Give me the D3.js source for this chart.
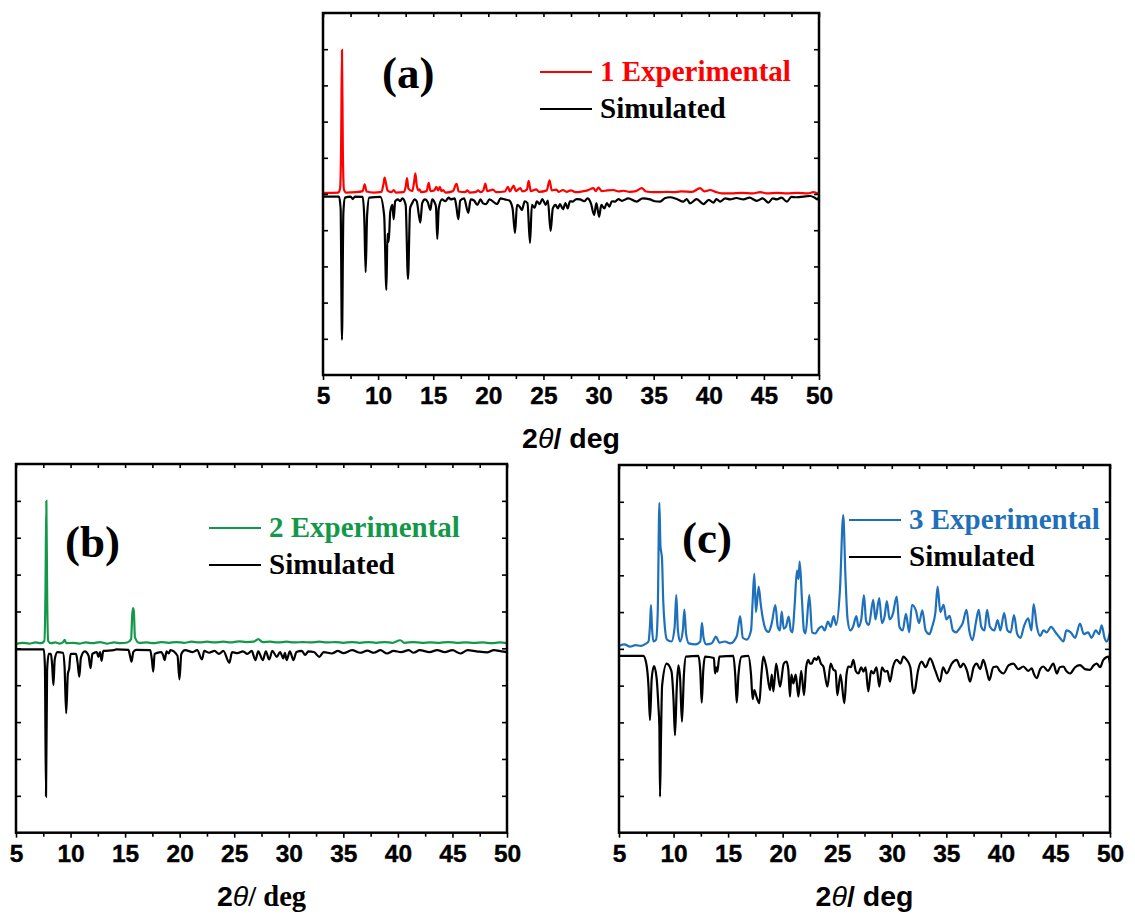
<!DOCTYPE html>
<html>
<head>
<meta charset="utf-8">
<script src="https://cdn.jsdelivr.net/npm/d3@7"></script>
<style>
  body { margin: 0; background: #fff; }
</style>
</head>
<body>
<svg id="chart" width="1135" height="915"></svg>
<script>
// ---- data: [2theta, intensity], intensity in tick units (0..10 per panel) ----
const xTicks = [5, 10, 15, 20, 25, 30, 35, 40, 45, 50];
const xMinor = [7.5, 12.5, 17.5, 22.5, 27.5, 32.5, 37.5, 42.5, 47.5];
const yTicks = [1, 2, 3, 4, 5, 6, 7, 8, 9];

const expA = [[5.0,5.03],[6.4,5.04],[6.55,5.15],[6.65,6.5],[6.72,8.98],[6.8,6.2],[6.9,5.12],[7.1,5.04],[8.0,5.05],[8.6,5.08],[8.78,5.27],[8.95,5.07],[9.6,5.04],[10.3,5.06],[10.5,5.3],[10.59,5.45],[10.72,5.28],[10.85,5.1],[11.2,5.05],[11.41,5.11],[11.6,5.04],[12.3,5.05],[12.5,5.2],[12.62,5.44],[12.75,5.15],[13.1,5.08],[13.25,5.3],[13.38,5.57],[13.5,5.25],[13.65,5.1],[13.75,5.13],[13.9,5.05],[14.4,5.08],[14.59,5.31],[14.75,5.08],[15.1,5.1],[15.28,5.2],[15.45,5.1],[15.6,5.2],[15.75,5.08],[15.9,5.11],[16.1,5.04],[16.8,5.08],[17.03,5.25],[17.13,5.28],[17.3,5.07],[17.9,5.05],[18.1,5.1],[18.3,5.04],[18.9,5.06],[19.06,5.1],[19.3,5.05],[19.55,5.1],[19.73,5.29],[19.9,5.08],[20.42,5.12],[20.7,5.05],[21.5,5.07],[21.78,5.2],[21.95,5.07],[22.3,5.23],[22.5,5.08],[22.9,5.16],[23.1,5.07],[23.5,5.12],[23.66,5.36],[23.85,5.08],[24.35,5.13],[24.6,5.06],[25.3,5.1],[25.56,5.38],[25.75,5.1],[26.17,5.12],[26.4,5.06],[26.77,5.11],[27.1,5.06],[27.5,5.1],[27.9,5.05],[28.5,5.07],[29.0,5.1],[29.53,5.16],[29.75,5.08],[29.99,5.18],[30.3,5.08],[30.8,5.1],[31.35,5.11],[31.8,5.07],[32.26,5.09],[32.8,5.06],[33.4,5.08],[33.92,5.16],[34.3,5.07],[35.0,5.05],[35.6,5.05],[36.19,5.06],[36.8,5.05],[37.5,5.07],[38.5,5.06],[39.21,5.16],[39.6,5.07],[40.12,5.11],[40.6,5.06],[41.18,5.02],[42.0,5.02],[43.0,5.03],[44.0,5.02],[44.66,5.05],[45.3,5.02],[46.2,5.03],[47.08,5.02],[48.0,5.03],[49.0,5.02],[49.5,5.05],[50.0,5.0]];

const simA = [[5.0,4.93],[6.45,4.93],[6.6,4.6],[6.72,0.97],[6.85,4.5],[7.0,4.9],[7.5,4.93],[7.7,4.86],[7.9,4.93],[8.6,4.92],[8.75,4.3],[8.87,2.84],[9.0,4.4],[9.2,4.9],[10.2,4.92],[10.55,4.4],[10.75,2.35],[10.85,3.9],[10.96,3.68],[11.1,4.5],[11.3,4.7],[11.41,4.3],[11.55,4.8],[11.8,4.85],[12.0,4.8],[12.2,4.88],[12.5,4.7],[12.71,2.65],[12.9,4.6],[13.1,4.75],[13.3,4.85],[13.5,4.8],[13.83,4.21],[14.0,4.75],[14.25,4.85],[14.5,4.78],[14.74,4.56],[14.9,4.85],[15.15,4.75],[15.25,4.65],[15.37,3.76],[15.5,4.6],[15.8,4.85],[16.1,4.8],[16.4,4.9],[16.6,4.85],[16.95,4.88],[17.1,4.65],[17.28,4.3],[17.45,4.82],[17.8,4.88],[18.18,4.48],[18.4,4.85],[18.7,4.82],[19.0,4.7],[19.3,4.85],[19.5,4.75],[19.8,4.72],[20.1,4.85],[20.8,4.72],[21.1,4.88],[21.5,4.85],[21.9,4.82],[22.2,4.6],[22.42,3.92],[22.6,4.7],[22.85,4.65],[23.05,4.56],[23.3,4.8],[23.55,4.75],[23.78,3.65],[23.95,4.7],[24.2,4.62],[24.4,4.8],[24.65,4.72],[24.9,4.86],[25.2,4.7],[25.4,4.82],[25.65,3.98],[25.85,4.6],[26.1,4.7],[26.3,4.6],[26.5,4.72],[26.77,4.58],[27.0,4.75],[27.2,4.6],[27.4,4.8],[27.65,4.79],[28.0,4.86],[28.32,4.85],[28.7,4.8],[29.0,4.88],[29.3,4.75],[29.6,4.42],[29.8,4.75],[30.05,4.37],[30.25,4.7],[30.53,4.6],[30.75,4.75],[30.98,4.65],[31.2,4.8],[31.5,4.79],[31.8,4.86],[32.1,4.81],[32.7,4.88],[33.46,4.79],[34.0,4.88],[34.67,4.85],[35.1,4.8],[35.58,4.79],[36.0,4.88],[36.49,4.91],[37.1,4.86],[37.7,4.79],[38.0,4.86],[38.3,4.74],[38.9,4.86],[39.51,4.72],[40.0,4.84],[40.42,4.76],[40.7,4.86],[41.02,4.79],[41.5,4.88],[41.93,4.85],[42.5,4.89],[43.14,4.85],[43.7,4.9],[44.35,4.81],[44.9,4.88],[45.41,4.76],[45.8,4.88],[46.17,4.85],[46.6,4.9],[47.08,4.79],[47.5,4.92],[47.98,4.91],[48.6,4.93],[49.19,4.945],[49.6,4.9],[49.86,4.85],[50.0,4.93]];

const expB = [[5.0,5.12],[5.6,5.15],[6.2,5.13],[6.8,5.16],[7.3,5.14],[7.6,5.2],[7.7,6.5],[7.78,9.0],[7.86,6.3],[7.95,5.2],[8.2,5.14],[8.6,5.16],[9.0,5.13],[9.3,5.16],[9.46,5.23],[9.6,5.14],[10.2,5.15],[10.8,5.13],[11.4,5.16],[12.0,5.14],[12.7,5.17],[13.3,5.13],[14.0,5.16],[14.6,5.14],[15.2,5.16],[15.55,5.25],[15.65,5.9],[15.72,6.09],[15.8,6.0],[15.9,5.3],[16.3,5.15],[17.0,5.16],[17.6,5.14],[18.3,5.17],[19.0,5.15],[19.7,5.17],[20.4,5.15],[21.1,5.18],[21.8,5.16],[22.5,5.18],[23.2,5.16],[24.0,5.18],[24.7,5.16],[25.4,5.19],[26.1,5.17],[26.8,5.18],[27.2,5.25],[27.6,5.17],[28.3,5.18],[29.0,5.16],[29.8,5.18],[30.5,5.16],[31.3,5.17],[32.0,5.16],[32.8,5.18],[33.5,5.16],[34.3,5.17],[35.0,5.15],[35.8,5.17],[36.5,5.15],[37.3,5.17],[38.0,5.15],[38.8,5.17],[39.5,5.15],[40.22,5.22],[40.6,5.15],[41.4,5.17],[42.2,5.15],[43.0,5.16],[43.8,5.15],[44.6,5.17],[45.4,5.15],[46.2,5.16],[47.0,5.15],[47.8,5.16],[48.6,5.14],[49.3,5.16],[50.0,5.14]];

const simB = [[5.0,4.97],[7.55,4.97],[7.65,4.5],[7.75,0.98],[7.85,4.4],[8.0,4.85],[8.2,4.85],[8.3,4.6],[8.43,4.0],[8.55,4.7],[8.8,4.9],[9.3,4.88],[9.45,4.5],[9.6,3.24],[9.75,4.3],[9.88,4.46],[10.0,4.85],[10.5,4.85],[10.65,4.6],[10.8,4.23],[10.95,4.75],[11.3,4.92],[11.65,4.8],[11.83,4.46],[12.0,4.85],[12.4,4.9],[12.55,4.77],[12.7,4.9],[12.84,4.66],[13.0,4.93],[13.97,4.95],[14.2,4.97],[15.3,4.96],[15.45,4.8],[15.59,4.64],[15.75,4.9],[16.0,4.96],[17.3,4.95],[17.45,4.7],[17.58,4.37],[17.7,4.85],[18.3,4.9],[18.5,4.8],[18.62,4.68],[18.8,4.92],[19.0,4.86],[19.15,4.95],[19.8,4.8],[19.98,4.16],[20.15,4.85],[20.5,4.95],[21.2,4.9],[21.6,4.95],[22.05,4.7],[22.25,4.93],[22.7,4.88],[23.2,4.93],[23.6,4.85],[24.0,4.93],[24.56,4.61],[24.8,4.9],[25.3,4.87],[25.8,4.92],[26.2,4.85],[26.6,4.93],[26.94,4.68],[27.2,4.92],[27.62,4.68],[27.9,4.92],[28.2,4.7],[28.5,4.93],[28.9,4.77],[29.2,4.9],[29.5,4.73],[29.65,4.88],[29.8,4.68],[30.1,4.92],[30.43,4.68],[30.7,4.9],[31.2,4.93],[31.5,4.82],[31.8,4.92],[32.3,4.9],[32.8,4.77],[33.2,4.9],[33.95,4.86],[34.5,4.93],[35.0,4.87],[35.8,4.95],[36.55,4.88],[37.2,4.94],[37.8,4.88],[38.4,4.95],[39.0,4.86],[39.6,4.93],[40.3,4.9],[41.0,4.95],[41.44,4.88],[42.0,4.95],[42.9,4.9],[43.6,4.95],[44.3,4.9],[45.0,4.95],[45.72,4.86],[46.4,4.95],[47.2,4.92],[48.17,4.89],[48.8,4.95],[49.5,4.92],[50.0,4.9]];

const expC = [[5.0,5.08],[5.5,5.12],[6.0,5.06],[6.5,5.1],[7.0,5.08],[7.4,5.13],[7.7,5.2],[7.85,5.7],[7.93,6.19],[8.02,5.6],[8.15,5.2],[8.4,5.25],[8.55,6.0],[8.7,8.97],[8.8,7.8],[8.94,7.46],[9.05,6.33],[9.2,5.6],[9.4,5.25],[9.8,5.2],[10.1,5.6],[10.25,6.46],[10.4,5.5],[10.6,5.2],[10.85,5.5],[10.99,6.07],[11.15,5.4],[11.4,5.15],[12.0,5.12],[12.45,5.2],[12.6,5.71],[12.75,5.3],[13.0,5.12],[13.5,5.15],[13.89,5.33],[14.2,5.17],[14.7,5.2],[15.2,5.15],[15.8,5.35],[16.1,5.89],[16.35,5.3],[16.7,5.25],[17.1,5.5],[17.25,6.3],[17.4,7.04],[17.55,6.0],[17.8,6.69],[18.0,6.19],[18.2,5.8],[18.5,5.5],[18.72,5.46],[19.0,5.7],[19.33,6.19],[19.55,5.6],[19.75,5.5],[19.91,6.01],[20.1,5.55],[20.3,5.6],[20.55,5.88],[20.75,5.5],[20.9,5.45],[21.1,6.2],[21.31,7.13],[21.45,6.9],[21.56,7.37],[21.77,6.33],[21.95,5.5],[22.1,5.42],[22.44,6.46],[22.7,5.45],[23.0,5.42],[23.3,5.55],[23.6,5.61],[23.85,5.5],[24.15,5.74],[24.4,5.6],[24.67,5.89],[24.9,5.65],[25.25,6.6],[25.55,8.64],[25.75,7.0],[25.95,5.8],[26.2,5.5],[26.45,5.6],[26.75,5.89],[26.95,5.6],[27.2,5.8],[27.45,6.46],[27.65,5.75],[27.9,5.65],[28.3,6.33],[28.5,5.8],[28.85,6.38],[29.1,5.7],[29.35,5.9],[29.55,6.3],[29.8,5.8],[30.1,5.95],[30.45,6.42],[30.7,5.6],[31.0,5.5],[31.3,5.95],[31.6,5.45],[31.85,6.2],[32.2,6.05],[32.5,5.7],[32.8,6.05],[33.1,5.5],[33.45,5.4],[33.7,5.6],[34.0,6.0],[34.2,6.69],[34.45,6.0],[34.75,6.2],[35.0,5.8],[35.3,5.9],[35.6,5.5],[35.9,5.45],[36.2,5.55],[36.5,5.7],[36.85,6.06],[37.1,5.5],[37.4,5.24],[37.7,5.7],[37.97,6.06],[38.2,5.6],[38.5,5.5],[38.73,6.06],[39.0,5.6],[39.4,5.5],[39.7,5.78],[39.95,5.5],[40.3,5.97],[40.6,5.5],[40.9,5.45],[41.2,5.92],[41.5,5.4],[41.8,5.3],[42.1,5.6],[42.5,5.83],[42.8,5.5],[43.0,6.22],[43.3,5.6],[43.6,5.35],[43.9,5.5],[44.2,5.45],[44.6,5.6],[45.0,5.45],[45.4,5.3],[45.73,5.2],[46.0,5.5],[46.4,5.45],[46.8,5.3],[47.25,5.69],[47.6,5.4],[48.0,5.45],[48.3,5.3],[48.7,5.5],[49.0,5.4],[49.24,5.64],[49.5,5.3],[49.7,5.2],[50.0,5.45]];

const simC = [[5.0,4.81],[7.23,4.81],[7.5,4.6],[7.7,4.0],[7.84,3.06],[8.0,4.2],[8.21,4.53],[8.45,4.2],[8.62,3.4],[8.7,2.9],[8.76,0.98],[8.85,2.6],[8.95,4.0],[9.37,4.6],[9.8,4.4],[10.0,3.6],[10.13,2.65],[10.3,4.0],[10.44,4.55],[10.6,4.2],[10.77,3.02],[10.95,4.3],[11.14,4.79],[12.27,4.81],[12.45,4.4],[12.58,3.54],[12.72,4.4],[12.88,4.79],[13.7,4.75],[13.8,4.33],[13.9,4.5],[14.01,4.38],[14.2,4.79],[15.48,4.81],[15.65,4.3],[15.79,3.54],[15.95,4.3],[16.24,4.79],[16.85,4.81],[17.1,4.3],[17.25,3.63],[17.4,3.88],[17.6,3.7],[17.86,3.52],[18.05,4.3],[18.23,4.79],[18.5,4.5],[18.84,3.88],[19.0,4.3],[19.15,3.84],[19.4,4.6],[19.76,3.97],[20.1,4.6],[20.35,4.65],[20.52,4.43],[20.67,3.7],[20.8,4.3],[20.98,4.06],[21.2,4.3],[21.44,3.7],[21.7,4.4],[21.96,3.74],[22.15,4.5],[22.35,4.7],[22.5,4.6],[22.66,4.6],[22.9,4.75],[23.12,4.7],[23.27,4.79],[23.5,4.6],[23.73,4.52],[24.1,3.97],[24.4,4.6],[24.65,4.43],[24.85,4.4],[25.01,3.74],[25.3,4.3],[25.65,3.52],[25.85,4.3],[26.02,4.52],[26.25,4.5],[26.48,4.7],[26.7,4.4],[26.94,4.33],[27.2,4.5],[27.4,4.38],[27.6,4.5],[27.85,3.84],[28.1,4.4],[28.31,4.33],[28.6,4.5],[28.86,3.97],[29.1,4.5],[29.38,4.38],[29.6,4.4],[29.84,4.11],[30.1,4.5],[30.45,4.7],[30.8,4.6],[31.06,4.79],[31.37,4.7],[31.7,4.5],[31.98,3.79],[32.13,3.88],[32.4,4.4],[32.74,4.65],[33.1,4.5],[33.51,4.74],[34.0,4.4],[34.42,4.11],[34.7,4.5],[35.03,4.33],[35.5,4.6],[35.95,4.7],[36.3,4.5],[36.56,4.6],[36.9,4.4],[37.17,4.11],[37.5,4.5],[37.78,4.6],[38.1,4.45],[38.39,4.7],[38.7,4.4],[38.94,4.15],[39.3,4.5],[39.62,4.52],[39.9,4.4],[40.23,4.33],[40.7,4.55],[41.14,4.6],[41.6,4.45],[42.06,4.52],[42.5,4.4],[42.82,4.47],[43.05,4.3],[43.28,4.2],[43.6,4.45],[43.89,4.52],[44.3,4.4],[44.81,4.6],[45.12,4.33],[45.4,4.5],[45.73,4.52],[46.0,4.4],[46.34,4.33],[46.8,4.5],[47.25,4.56],[47.7,4.45],[48.17,4.43],[48.5,4.55],[48.78,4.6],[49.1,4.5],[49.39,4.7],[49.85,4.79],[50.0,4.6]];

const tags = ["(a)", "(b)", "(c)"];
const expNames = ["1 Experimental", "2 Experimental", "3 Experimental"];
const simName = "Simulated";

// ---- layout ----
const panels = [
  { tag: tags[0], exp: expA, sim: simA, name: expNames[0], color: "#ff0000",
    box: { l: 323, r: 819, t: 13, b: 375 }, tagX: 382, tagY: 88,
    legX: 540, legY: 72, degFont: "Liberation Sans, Arial, sans-serif" },
  { tag: tags[1], exp: expB, sim: simB, name: expNames[1], color: "#13984a",
    box: { l: 16, r: 507, t: 464, b: 832.7 }, tagX: 65, tagY: 557,
    legX: 209, legY: 528, degFont: "Liberation Serif, Times New Roman, serif" },
  { tag: tags[2], exp: expC, sim: simC, name: expNames[2], color: "#1f70bb",
    box: { l: 619, r: 1110, t: 465, b: 832.7 }, tagX: 682, tagY: 553,
    legX: 849, legY: 520, degFont: "Liberation Sans, Arial, sans-serif" }
];

const svg = d3.select("#chart");
svg.append("rect").attr("width", 1135).attr("height", 915).attr("fill", "#fff");

const sans = "Liberation Sans, Arial, sans-serif";
const serif = "Liberation Serif, Times New Roman, serif";

panels.forEach(function(p, i) {
  const x = d3.scaleLinear().domain([5, 50]).range([p.box.l, p.box.r]);
  const y = d3.scaleLinear().domain([0, 10]).range([p.box.b, p.box.t]);
  const g = svg.append("g");

  const clipId = "clip" + i;
  g.append("clipPath").attr("id", clipId)
    .append("rect")
    .attr("x", p.box.l).attr("y", p.box.t)
    .attr("width", p.box.r - p.box.l).attr("height", p.box.b - p.box.t);

  const line = d3.line()
    .x(function(d) { return x(d[0]); })
    .y(function(d) { return y(d[1]); })
    .curve(d3.curveMonotoneX);

  g.append("path").datum(p.sim)
    .attr("clip-path", "url(#" + clipId + ")")
    .attr("d", line).attr("fill", "none")
    .attr("stroke", "#000").attr("stroke-width", 2.2);
  g.append("path").datum(p.exp)
    .attr("clip-path", "url(#" + clipId + ")")
    .attr("d", line).attr("fill", "none")
    .attr("stroke", p.color).attr("stroke-width", 2.2);

  // axes
  const bottom = g.append("g").attr("transform", "translate(0," + p.box.b + ")")
    .call(d3.axisBottom(x).tickValues(xTicks).tickSize(5).tickSizeOuter(0).tickPadding(7));
  bottom.selectAll("text")
    .attr("font-family", sans).attr("font-weight", "bold")
    .attr("font-size", 24.5).attr("fill", "#000")
    .attr("stroke", "#000").attr("stroke-width", 0.4);
  g.append("g").attr("transform", "translate(0," + p.box.b + ")")
    .call(d3.axisBottom(x).tickValues(xMinor).tickSize(4).tickSizeOuter(0).tickFormat(""));
  g.append("g").attr("transform", "translate(0," + p.box.t + ")")
    .call(d3.axisTop(x).tickValues(xTicks.concat(xMinor)).tickSize(-4).tickSizeOuter(0).tickFormat(""));
  g.append("g").attr("transform", "translate(" + p.box.l + ",0)")
    .call(d3.axisLeft(y).tickValues(yTicks).tickSize(-5).tickSizeOuter(0).tickFormat(""));
  g.append("g").attr("transform", "translate(" + p.box.r + ",0)")
    .call(d3.axisRight(y).tickValues(yTicks).tickSize(-5).tickSizeOuter(0).tickFormat(""));
  g.selectAll(".domain").remove();
  g.selectAll(".tick line").attr("stroke", "#000").attr("stroke-width", 1.6);

  g.append("rect")
    .attr("x", p.box.l).attr("y", p.box.t)
    .attr("width", p.box.r - p.box.l).attr("height", p.box.b - p.box.t)
    .attr("fill", "none").attr("stroke", "#000").attr("stroke-width", 2.5);

  // axis title
  const title = g.append("text")
    .attr("x", (p.box.l + p.box.r) / 2).attr("y", p.box.b + 73)
    .attr("text-anchor", "middle").attr("font-size", 28.5).attr("font-weight", "bold")
    .attr("fill", "#000");
  title.append("tspan").attr("font-family", sans).text("2");
  title.append("tspan").attr("font-family", sans).attr("font-style", "italic")
    .attr("font-weight", "normal").text("θ");
  title.append("tspan").attr("font-family", p.degFont).text("/ deg");

  // panel tag
  g.append("text").attr("x", p.tagX).attr("y", p.tagY)
    .attr("font-family", serif).attr("font-weight", "bold").attr("font-size", 45)
    .attr("fill", "#000").text(p.tag);

  // legend
  const leg = [{ label: p.name, color: p.color, dy: 0 }, { label: simName, color: "#000", dy: 37 }];
  leg.forEach(function(e) {
    g.append("line")
      .attr("x1", p.legX).attr("x2", p.legX + 52)
      .attr("y1", p.legY + e.dy).attr("y2", p.legY + e.dy)
      .attr("stroke", e.color).attr("stroke-width", 2);
    g.append("text")
      .attr("x", p.legX + 60).attr("y", p.legY + e.dy + 9)
      .attr("font-family", serif).attr("font-weight", "bold").attr("font-size", 29)
      .attr("fill", e.color).text(e.label);
  });
});
</script>
</body>
</html>
